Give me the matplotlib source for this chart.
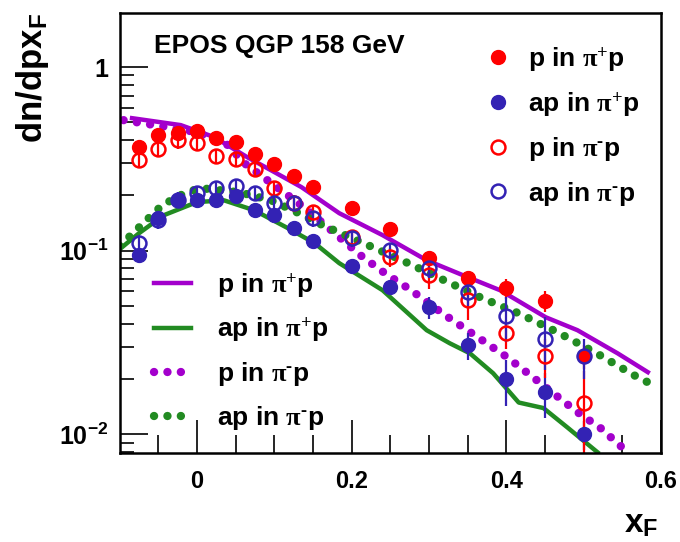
import matplotlib
matplotlib.use("Agg")
import matplotlib.pyplot as plt
from matplotlib.ticker import FixedLocator, NullFormatter, FixedFormatter
import numpy as np

plt.rcParams['font.family'] = ['Liberation Sans', 'DejaVu Sans']
plt.rcParams['font.weight'] = 'bold'
plt.rcParams['mathtext.fontset'] = 'custom'
plt.rcParams['mathtext.rm'] = 'Liberation Serif'
plt.rcParams['mathtext.it'] = 'Liberation Serif'
plt.rcParams['mathtext.bf'] = 'Liberation Sans:bold'
plt.rcParams['mathtext.default'] = 'rm'

# data points (x_F bins)
xf = [-0.075, -0.05, -0.025, 0, 0.025, 0.05, 0.075, 0.1, 0.125, 0.15,
      0.2, 0.25, 0.3, 0.35, 0.4, 0.45, 0.5]

p_pip = [0.366, 0.426, 0.437, 0.448, 0.410, 0.390, 0.336, 0.296, 0.255, 0.222,
         0.171, 0.131, 0.091, 0.0708, 0.0625, 0.0531, 0.0266]
p_pip_err = [0.02, 0.02, 0.02, 0.02, 0.02, 0.02, 0.015, 0.013, 0.011, 0.01,
             0.008, 0.007, 0.006, 0.006, 0.008, 0.007, 0.004]

ap_pip = [0.0945, 0.150, 0.188, 0.188, 0.188, 0.198, 0.166, 0.156, 0.133, 0.113,
          0.0823, 0.0633, 0.0492, 0.0305, 0.0199, 0.0169, 0.0100]
ap_pip_err = [0.005, 0.007, 0.008, 0.008, 0.008, 0.008, 0.007, 0.007, 0.006, 0.006,
              0.005, 0.006, 0.007, 0.005, 0.0056, 0.0047, 0.0018]

p_pim = [0.311, 0.357, 0.400, 0.385, 0.327, 0.315, 0.278, 0.219, 0.182, 0.162,
         0.118, 0.0922, 0.0735, 0.0537, 0.0355, 0.0266, 0.0149]
p_pim_err = [0.03, 0.035, 0.04, 0.038, 0.032, 0.03, 0.027, 0.022, 0.018, 0.016,
             0.012, 0.011, 0.012, 0.012, 0.0064, 0.0064, 0.0073]

ap_pim = [0.110, 0.147, 0.19, 0.206, 0.219, 0.225, 0.206, 0.182, 0.182, 0.150,
          0.117, 0.1006, 0.0803, 0.0594, 0.0440, 0.0330, 0.0266]
ap_pim_err = [0.011, 0.015, 0.019, 0.02, 0.021, 0.022, 0.02, 0.018, 0.018, 0.015,
              0.012, 0.01, 0.009, 0.0095, 0.012, 0.0105, 0.0066]

labels = [r'p in $\pi^{+}$p', r'ap in $\pi^{+}$p',
          r'p in $\pi^{\text{-}}$p', r'ap in $\pi^{\text{-}}$p']

# EPOS curves
x_epos_p_pip = [-0.084, -0.021, 0.022, 0.065, 0.1, 0.135, 0.184, 0.240, 0.297, 0.344,
                0.392, 0.414, 0.451, 0.492, 0.544, 0.583]
epos_p_pip = [0.527, 0.483, 0.416, 0.323, 0.268, 0.222, 0.160, 0.1215, 0.0887, 0.0735,
              0.0609, 0.0537, 0.0434, 0.0369, 0.0276, 0.0218]

x_epos_ap_pip = [-0.1, -0.075, -0.043, 0, 0.035, 0.074, 0.117, 0.152, 0.184, 0.240,
                 0.297, 0.327, 0.353, 0.383, 0.416, 0.448, 0.479, 0.518]
epos_ap_pip = [0.1019, 0.1245, 0.156, 0.184, 0.188, 0.166, 0.133, 0.110, 0.0855, 0.0609,
               0.0369, 0.0313, 0.0276, 0.0215, 0.0149, 0.0139, 0.0109, 0.00798]

x_epos_p_pim = [-0.095, -0.055, 0, 0.04, 0.061, 0.091, 0.138, 0.181, 0.213, 0.243,
                0.275, 0.321, 0.369, 0.401, 0.431, 0.461, 0.492, 0.522, 0.551]
epos_p_pim = [0.514, 0.483, 0.442, 0.376, 0.30, 0.242, 0.173, 0.1215, 0.0933, 0.0754,
              0.0617, 0.0445, 0.0325, 0.0263, 0.0210, 0.0167, 0.0132, 0.0108, 0.0084]

x_epos_ap_pim = [-0.1, -0.075, -0.045, -0.014, 0.005, 0.055, 0.096, 0.129, 0.162, 0.213,
                 0.265, 0.314, 0.366, 0.416, 0.466, 0.517, 0.565, 0.596]
epos_ap_pim = [0.106, 0.134, 0.177, 0.208, 0.219, 0.208, 0.188, 0.162, 0.138, 0.111,
               0.0887, 0.0708, 0.0558, 0.0456, 0.0360, 0.0276, 0.0210, 0.0180]

red = '#ff0000'
blue = '#3322b4'
purple = '#a300cc'
green = '#228b22'

fig = plt.figure(figsize=(6.8, 5.42), dpi=100)
ax = fig.add_axes([0.176, 0.164, 0.796, 0.812])
ax.set_yscale('log')

dots = (0, (0.01, 1.6))
l1, = ax.plot(x_epos_p_pip, epos_p_pip, color=purple, lw=3.2)
l2, = ax.plot(x_epos_ap_pip, epos_ap_pip, color=green, lw=3.2)
l3, = ax.plot(x_epos_p_pim, epos_p_pim, color=purple, lw=6, linestyle=dots,
              dash_capstyle='round')
l4, = ax.plot(x_epos_ap_pim, epos_ap_pim, color=green, lw=6, linestyle=dots,
              dash_capstyle='round')

ms = 10
e1 = ax.errorbar(xf, p_pip, yerr=p_pip_err, fmt='o', color=red, ms=ms, elinewidth=1.6,
                 capsize=0)
e2 = ax.errorbar(xf, ap_pip, yerr=ap_pip_err, fmt='o', color=blue, ms=ms, elinewidth=1.6,
                 capsize=0)
e3 = ax.errorbar(xf, p_pim, yerr=p_pim_err, fmt='o', color=red, mfc='none', mew=1.8,
                 ms=ms, elinewidth=1.6, capsize=0)
e4 = ax.errorbar(xf, ap_pim, yerr=ap_pim_err, fmt='o', color=blue, mfc='none', mew=1.8,
                 ms=ms, elinewidth=1.6, capsize=0)

ax.set_xlim(-0.1, 0.6)
ax.set_ylim(0.0079, 1.97)

ax.xaxis.set_major_locator(FixedLocator([0, 0.2, 0.4, 0.6]))
ax.xaxis.set_minor_locator(FixedLocator(np.arange(-0.05, 0.6, 0.05)))
ax.set_xticklabels(['0', '0.2', '0.4', '0.6'])
ax.yaxis.set_major_locator(FixedLocator([0.01, 0.1, 1]))
ax.yaxis.set_major_formatter(FixedFormatter([r'$\mathbf{10^{-2}}$', r'$\mathbf{10^{-1}}$', '1']))
ax.yaxis.set_minor_formatter(NullFormatter())
ax.tick_params(which='both', direction='in', top=False, right=False, labelsize=17, width=1.2)
ax.tick_params(axis='y', which='major', length=20, pad=8, labelsize=18)
ax.tick_params(axis='y', which='minor', length=10)
ax.tick_params(axis='x', which='major', length=24, pad=12)
ax.tick_params(axis='x', which='minor', length=13)
for s in ax.spines.values():
    s.set_linewidth(1.8)

ax.set_ylabel(r'dn/dpx$_{\mathbf{F}}$', fontsize=25, fontweight='bold', loc='top', labelpad=6)
fig.text(0.968, 0.005, r'x$_{\mathbf{F}}$', fontsize=24, fontweight='bold', ha='right', va='bottom')

ax.text(0.064, 0.924, 'EPOS QGP 158 GeV', transform=ax.transAxes, fontsize=19,
        fontweight='bold', va='center')

leg1 = ax.legend([e1[0], e2[0], e3[0], e4[0]], labels, loc='upper left',
                 bbox_to_anchor=(0.717, 0.917), bbox_transform=fig.transFigure,
                 frameon=False, fontsize=19, handlelength=0.8, handletextpad=0.75,
                 labelspacing=0.62, borderpad=0, borderaxespad=0)
ax.add_artist(leg1)
ax.legend([l1, l2, l3, l4], labels, loc='upper left',
          bbox_to_anchor=(0.226, 0.5), bbox_transform=fig.transFigure,
          frameon=False, fontsize=19, handlelength=1.4, handletextpad=1.0,
          labelspacing=0.6, borderpad=0, borderaxespad=0)

fig.savefig('out.png', dpi=100)
